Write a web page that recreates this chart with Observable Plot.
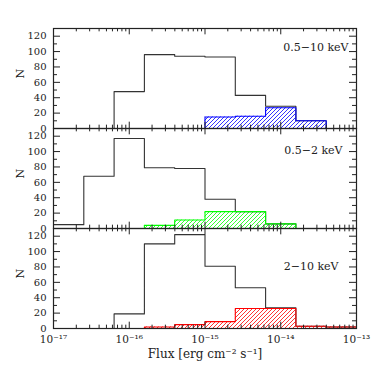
<!DOCTYPE html>
<html><head><meta charset="utf-8">
<script src="https://cdn.jsdelivr.net/npm/d3@7"></script>
<script src="https://cdn.jsdelivr.net/npm/@observablehq/plot@0.6"></script>
<style>html,body{margin:0;padding:0;background:#fff}</style>
</head><body><div id="chart"></div>
<script>
// Panels (energy bands)
const panels = ["0.5−10 keV", "0.5−2 keV", "2−10 keV"];
// Bin edges in log10(flux)
const binEdgesLog = [-17, -16.6, -16.2, -15.8, -15.4, -15.0, -14.6, -14.2, -13.8, -13.4, -13.0];
// Counts per bin: all sources (black) and hatched subset (coloured)
const totalFull = [0, 0, 48, 96, 94, 93, 43, 29, 10, 0];
const subsetFull = [null, null, null, null, 0, 15, 16, 27, 10, 0];
const totalSoft = [5, 68, 117, 79, 78, 38, 22, 6, 0, 0];
const subsetSoft = [null, null, 0, 4, 11, 22, 22, 6, 0, 0];
const totalHard = [0, 0, 19, 110, 122, 81, 53, 27, 3, 2];
const subsetHard = [0, 0, 0, 2, 5, 9, 26, 26, 3, 2];
const subsetColors = ["#0000ff", "#00ff00", "#ff0000"];
// Axis ticks
const yTickValues = [0, 20, 40, 60, 80, 100, 120];
const yMinorValues = [10, 30, 50, 70, 90, 110];
const xTickValues = [1e-17, 1e-16, 1e-15, 1e-14, 1e-13];
const xMinorMultipliers = [2, 3, 4, 5, 6, 7, 8, 9];
const yLabel = "N";
const xLabel = "Flux [erg cm⁻² s⁻¹]";

const totals = [totalFull, totalSoft, totalHard];
const subsets = [subsetFull, subsetSoft, subsetHard];

const W = 382, H = 382, mT = 27, mB = 53, mL = 53, mR = 26;
const panelH = (H - mT - mB) / 3;
const plotW = W - mL - mR;
const majorLen = 7, minorLen = 4;
const labelOffsets = [[-8, 15], [-14, 18], [-18, 34]];

const xMinorValues = xTickValues.slice(0, -1).flatMap(d => xMinorMultipliers.map(m => m * d));

const stepRows = (arr, k) => [
  ...arr.map((v, i) => ({panel: panels[k], x: 10 ** binEdgesLog[i], y: v})),
  {panel: panels[k], x: 10 ** binEdgesLog[binEdgesLog.length - 1], y: arr[arr.length - 1]}
];
const binRows = (arr, k) => arr.map((v, i) => ({panel: panels[k], x1: 10 ** binEdgesLog[i], x2: 10 ** binEdgesLog[i + 1], y: v}))
  .filter(d => d.y != null && d.y > 0);

const sup = {"-": "⁻", "0": "⁰", "1": "¹", "2": "²", "3": "³", "4": "⁴", "5": "⁵", "6": "⁶", "7": "⁷", "8": "⁸", "9": "⁹"};
const fmt = d => "10" + String(Math.round(Math.log10(d))).split("").map(c => sup[c]).join("");

const ink = "#222";
const marks = [];
// hatched subsets
subsets.forEach((arr, k) => {
  marks.push(Plot.rectY(binRows(arr, k), {x1: "x1", x2: "x2", y: "y", fy: "panel", fill: `url(#hatch-${k})`}));
});
// total histograms
totals.forEach((arr, k) => {
  marks.push(Plot.line(stepRows(arr, k), {x: "x", y: "y", fy: "panel", curve: "step-after", stroke: "#333", strokeWidth: 1.1}));
});
// subset outlines
subsets.forEach((arr, k) => {
  marks.push(Plot.line(stepRows(arr, k), {x: "x", y: "y", fy: "panel", curve: "step-after", stroke: subsetColors[k], strokeWidth: 1.1}));
});
// inward ticks on all four sides of each panel
marks.push(
  Plot.ruleX(xTickValues, {insetTop: panelH - majorLen, stroke: ink}),
  Plot.ruleX(xTickValues, {insetBottom: panelH - majorLen, stroke: ink}),
  Plot.ruleX(xMinorValues, {insetTop: panelH - minorLen, stroke: ink}),
  Plot.ruleX(xMinorValues, {insetBottom: panelH - minorLen, stroke: ink}),
  Plot.ruleY(yTickValues, {insetRight: plotW - majorLen, stroke: ink}),
  Plot.ruleY(yTickValues, {insetLeft: plotW - majorLen, stroke: ink}),
  Plot.ruleY(yMinorValues, {insetRight: plotW - minorLen, stroke: ink}),
  Plot.ruleY(yMinorValues, {insetLeft: plotW - minorLen, stroke: ink}),
  Plot.frame({stroke: ink, strokeWidth: 1.2}),
  Plot.axisY({ticks: yTickValues, tickSize: 0, tickPadding: 7, label: null, fontSize: 10}),
  Plot.axisX({ticks: xTickValues, tickSize: 0, tickPadding: 7, tickFormat: fmt, label: null, fontSize: 10.5}),
  Plot.text(panels, {fy: d => d, text: d => d, frameAnchor: "top-right", textAnchor: "end", fontSize: 11}),
  Plot.text(panels, {fy: d => d, text: () => yLabel, frameAnchor: "left", dx: -33, rotate: -90, fontSize: 11}),
  Plot.text([panels[2]], {fy: d => d, text: () => xLabel, frameAnchor: "bottom", dy: 29, fontSize: 12})
);

const chart = Plot.plot({
  width: W, height: H,
  marginTop: mT, marginBottom: mB, marginLeft: mL, marginRight: mR,
  style: {fontFamily: "DejaVu Serif", fontSize: "10px", background: "#fff", color: ink},
  x: {type: "log", domain: [1e-17, 1e-13]},
  y: {domain: [0, 130]},
  fy: {domain: panels, padding: 0, axis: null},
  marks
});

// hatch patterns ("/" diagonals)
const defs = d3.select(chart).insert("defs", ":first-child");
subsetColors.forEach((c, k) => {
  const p = defs.append("pattern").attr("id", `hatch-${k}`).attr("patternUnits", "userSpaceOnUse")
    .attr("width", 4).attr("height", 4);
  p.append("path").attr("d", "M-1,1L1,-1M0,4L4,0M3,5L5,3").attr("stroke", c).attr("stroke-width", 0.8).attr("fill", "none");
});

// position panel labels
d3.select(chart).selectAll("g[aria-label='text']").filter((d, i) => i === 0).selectAll("text")
  .each(function(d, i) {
    const o = labelOffsets[i] || [0, 0];
    const t = d3.select(this);
    const tr = t.attr("transform") || "";
    t.attr("transform", tr + ` translate(${o[0]},${o[1]})`);
  });

document.getElementById("chart").appendChild(chart);
</script>
</body></html>
